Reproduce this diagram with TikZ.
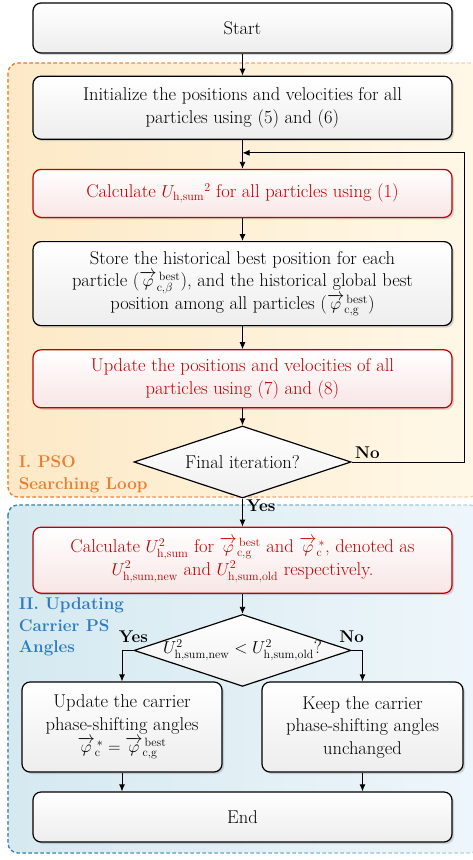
\documentclass[tikz,border=0pt]{standalone}
\usepackage{amsmath,amssymb}
\usepackage{tikz}
\usetikzlibrary{shapes.geometric,arrows.meta,positioning,calc,shadows,fadings}
\definecolor{psoorange}{HTML}{ED7D31}
\definecolor{updblue}{HTML}{2F7BBF}
\definecolor{regblue}{HTML}{3A86A8}
\definecolor{calcred}{HTML}{C00000}
\newcommand{\vphi}{\smash[t]{\overrightarrow{\varphi}}}
\tikzfading[name=fade right, left color=transparent!0, right color=transparent!100]
\tikzstyle{block} = [rectangle, draw=black, line width=1.2pt, rounded corners=8pt, top color=white, bottom color=gray!14, align=center, minimum width=419pt, font=\fontsize{18.5}{22.5}\selectfont, drop shadow={shadow xshift=2pt, shadow yshift=-2pt, opacity=0.3}]
\tikzstyle{redblock} = [block, draw=calcred, text=calcred, bottom color=calcred!10]
\tikzstyle{decision} = [diamond, aspect=3, draw, line width=1.2pt, top color=white, bottom color=gray!12, minimum width=217pt, minimum height=72pt, inner sep=0pt, font=\fontsize{18.5}{22.5}\selectfont]
\tikzstyle{lbl} = [font=\fontsize{17}{21.5}\selectfont\bfseries]
\tikzstyle{region} = [rounded corners=10pt, line width=1.3pt, dash pattern=on 3.5pt off 2.5pt]

\begin{document}
\begin{tikzpicture}[x=1pt, y=-1pt, >={Latex[length=7pt,width=6pt]}, line width=0.9pt]
    \useasboundingbox (0,0) rectangle (473,860);

    % Bereiche
    \shade[region, left color={rgb,255:red,253;green,233;blue,198}, right color={rgb,255:red,255;green,248;blue,232}] (8,63) rectangle (480,497);
    \draw[region, psoorange!35] (8,63) rectangle (480,497);
    \draw[region, psoorange, path fading=fade right] (8,63) rectangle (480,497);
    \shade[region, left color={rgb,255:red,213;green,233;blue,241}, right color={rgb,255:red,238;green,246;blue,250}] (8,505) rectangle (480,853);
    \draw[region, regblue!35] (8,505) rectangle (480,853);
    \draw[region, regblue, path fading=fade right] (8,505) rectangle (480,853);
    \node[lbl, text=psoorange, anchor=north west, align=left] (psolbl) at (15,452) {I. PSO\\Searching Loop};
    \node[lbl, text=updblue, anchor=north west, align=left] (updlbl) at (15,594) {II. Updating\\Carrier PS\\Angles};

    % PSO-Schleife
    \node[block, minimum height=50pt] (start) at (242.5,28) {Start};
    \node[block, minimum height=63pt, below=22pt of start] (init) {Initialize the positions and velocities for all\\particles using (5) and (6)};
    \node[redblock, minimum height=48pt, below=29pt of init] (calc1) {Calculate $U_{\mathrm{h,sum}}{}^{2}$ for all particles using (1)};
    \node[block, minimum height=84pt, below=23pt of calc1] (store) {Store the historical best position for each\\particle ($\vphi_{\mathrm{c},\beta}^{\,\mathrm{best}}$), and the historical global best\\position among all particles ($\vphi_{\mathrm{c,g}}^{\,\mathrm{best}}$)};
    \node[redblock, minimum height=58pt, below=23pt of store] (upd) {Update the positions and velocities of all\\particles using (7) and (8)};
    \node[decision, below=17pt of upd] (fin) {\makebox[0pt]{Final iteration?}};

    % Aktualisierung
    \node[redblock, minimum height=66pt, below=28pt of fin] (calc2) {Calculate $U_{\mathrm{h,sum}}^{2}$ for $\vphi_{\mathrm{c,g}}^{\,\mathrm{best}}$ and $\vphi_{\mathrm{c}}^{\,*}$, denoted as\\$U_{\mathrm{h,sum,new}}^{2}$ and $U_{\mathrm{h,sum,old}}^{2}$ respectively.};
    \node[decision, below=20pt of calc2] (cmp) {\makebox[0pt]{$U_{\mathrm{h,sum,new}}^{2} < U_{\mathrm{h,sum,old}}^{2}$?}};
    \node[block, minimum width=200pt, minimum height=90pt] (upang) at (122,727) {Update the carrier\\phase-shifting angles\\$\vphi_{\mathrm{c}}^{\,*} = \vphi_{\mathrm{c,g}}^{\,\mathrm{best}}$};
    \node[block, minimum width=201pt, minimum height=90pt] (keep) at (362.5,727) {Keep the carrier\\phase-shifting angles\\unchanged};
    \node[block, minimum height=50pt] (stop) at (242.5,817) {End};

    % Verbindungen
    \coordinate (loop) at ($(init.south)!0.45!(calc1.north)$);
    \draw[->] (start) -- (init);
    \draw[->] (init) -- (calc1);
    \draw[->] (calc1) -- (store);
    \draw[->] (store) -- (upd);
    \draw[->] (upd) -- (fin);
    \draw[->] (fin.east) -- node[lbl, above, pos=0.14] {No} ++(113,0) |- (loop);
    \draw[->] (fin) -- node[lbl, right, pos=0.25] {Yes} (calc2);
    \draw[->] (calc2) -- (cmp);
    \draw[->] (cmp.west) -| node[lbl, above, pos=0, yshift=4pt] {Yes} (upang);
    \draw[->] (cmp.east) -| node[lbl, above, pos=0, yshift=4pt] {No} (keep);
    \draw[->] (upang.south) -- (upang.south |- stop.north);
    \draw[->] (keep.south) -- (keep.south |- stop.north);
\end{tikzpicture}
\end{document}
